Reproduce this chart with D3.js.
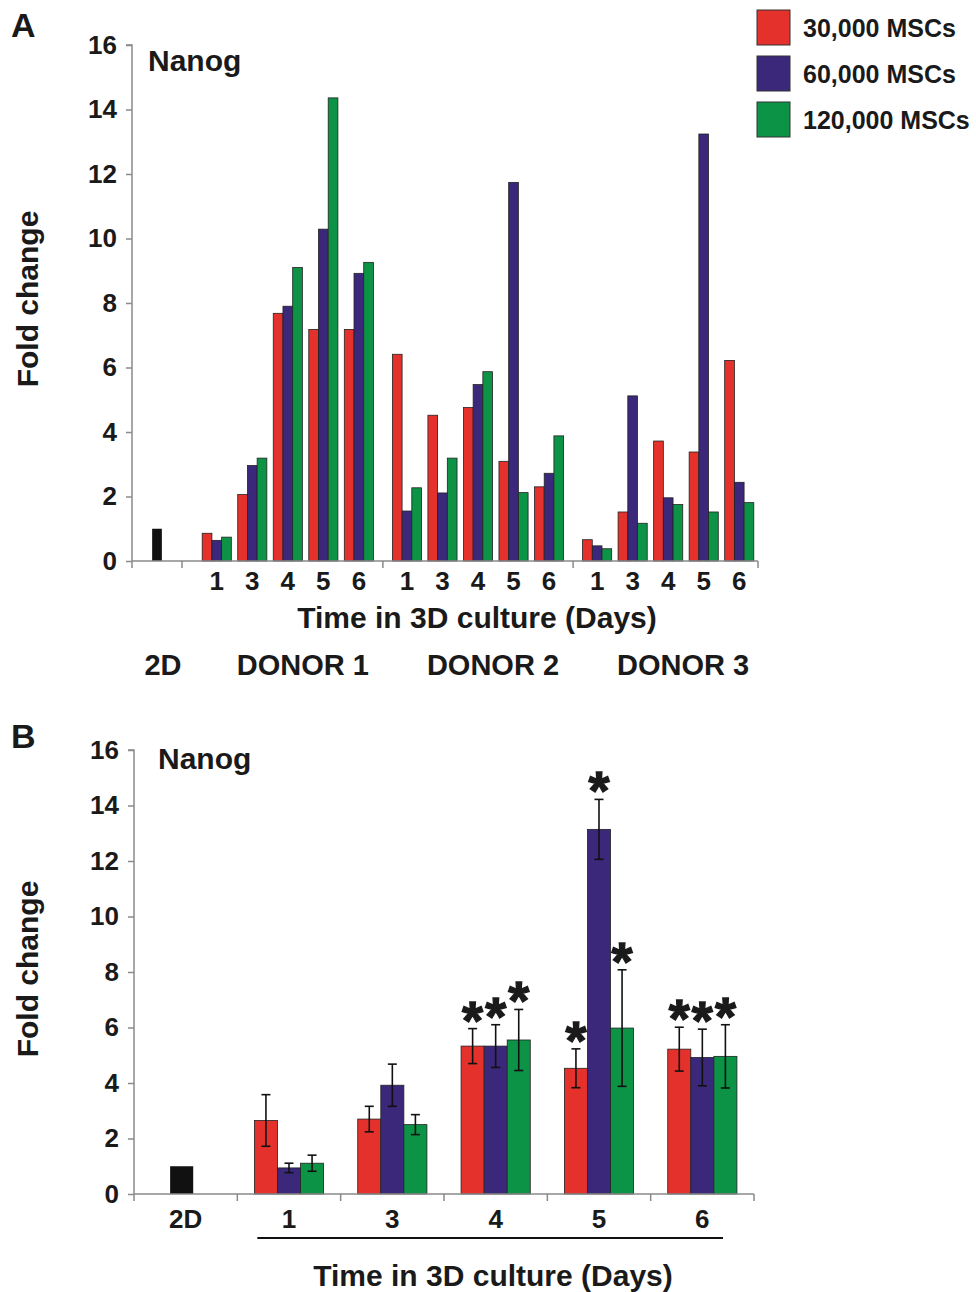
<!DOCTYPE html>
<html>
<head>
<meta charset="utf-8">
<script src="https://cdn.jsdelivr.net/npm/d3@7"></script>
<style>
  body { margin: 0; background: #fff; }
  svg text { font-family: "Liberation Sans", Arial, sans-serif; font-weight: bold; fill: #1a1a1a; }
</style>
</head>
<body>
<div id="chart"></div>
<script>
// ---- data ----
const series = ["30,000 MSCs", "60,000 MSCs", "120,000 MSCs"];
const colors = ["#e5312b", "#3b287a", "#0d9346"];
const days = ["1", "3", "4", "5", "6"];
const donors = ["DONOR 1", "DONOR 2", "DONOR 3"];
const yTicks = [0, 2, 4, 6, 8, 10, 12, 14, 16];
const value2D = 1;

// panel A: per donor, one row per series, one value per day
const donor1 = [
  [0.86, 2.06, 7.68, 7.18, 7.18],
  [0.64, 2.96, 7.90, 10.29, 8.92],
  [0.74, 3.19, 9.10, 14.36, 9.26]
];
const donor2 = [
  [6.41, 4.52, 4.76, 3.09, 2.30],
  [1.55, 2.11, 5.47, 11.74, 2.72],
  [2.27, 3.19, 5.87, 2.12, 3.88]
];
const donor3 = [
  [0.66, 1.52, 3.72, 3.38, 6.22],
  [0.47, 5.12, 1.96, 13.24, 2.44],
  [0.38, 1.17, 1.75, 1.52, 1.81]
];
const donorValues = [donor1, donor2, donor3];

// panel B: mean +/- error
const catsB = ["2D", "1", "3", "4", "5", "6"];
const mean30 = [2.65, 2.70, 5.33, 4.53, 5.22];
const mean60 = [0.94, 3.92, 5.33, 13.14, 4.92];
const mean120 = [1.11, 2.50, 5.55, 5.98, 4.96];
const err30 = [0.93, 0.46, 0.63, 0.70, 0.79];
const err60 = [0.17, 0.76, 0.77, 1.08, 1.02];
const err120 = [0.29, 0.36, 1.10, 2.10, 1.14];
const sig30 = [false, false, true, true, true];
const sig60 = [false, false, true, true, true];
const sig120 = [false, false, true, true, true];

const meansB = [mean30, mean60, mean120];
const errsB = [err30, err60, err120];
const sigsB = [sig30, sig60, sig120];

// ---- svg ----
const width = 976, height = 1292;
const svg = d3.select("#chart").append("svg")
  .attr("width", width).attr("height", height);

const axisGrey = "#8a8a8a";

// ================= PANEL A =================
const A = { left: 132, right: 758, top: 45, bottom: 561 };

const yA = d3.scaleLinear().domain([0, 16]).range([A.bottom, A.top]);

const xDonor = d3.scaleBand().domain(donors).range([199, 757]).paddingInner(0.066).paddingOuter(0);
const xDay = d3.scaleBand().domain(days).range([0, xDonor.bandwidth()]);
const xSer = d3.scaleBand().domain(series).range([0, xDay.bandwidth()]).paddingInner(0).paddingOuter(0.33);
const x2DA = A.left + 25;

const gA = svg.append("g");

// y axis
const yAxisA = gA.append("g")
  .attr("transform", `translate(${A.left},0)`)
  .call(d3.axisLeft(yA).tickValues(yTicks).tickSize(6).tickPadding(9));
yAxisA.selectAll("path, line").attr("stroke", axisGrey).attr("stroke-width", 1.5);
yAxisA.select(".domain").attr("d", `M-6,${A.top}H0V${A.bottom}`);
yAxisA.selectAll("text").style("font-size", "26px").attr("fill", "#1a1a1a");

// bars: 2D
gA.append("rect")
  .attr("x", x2DA - xSer.bandwidth() / 2)
  .attr("y", yA(value2D))
  .attr("width", xSer.bandwidth())
  .attr("height", yA(0) - yA(value2D))
  .attr("fill", "#111");

// bars: donors
donors.forEach((dn, di) => {
  const g = gA.append("g").attr("transform", `translate(${xDonor(dn)},0)`);
  series.forEach((s, si) => {
    g.selectAll(null)
      .data(donorValues[di][si])
      .enter().append("rect")
      .attr("x", (v, k) => xDay(days[k]) + xSer(s))
      .attr("y", v => yA(v))
      .attr("width", xSer.bandwidth())
      .attr("height", v => yA(0) - yA(v))
      .attr("fill", colors[si])
      .attr("stroke", "#222")
      .attr("stroke-width", 0.8);
  });
  // day labels
  g.selectAll(null).data(days).enter().append("text")
    .attr("x", d => xDay(d) + xDay.bandwidth() / 2)
    .attr("y", A.bottom + 29)
    .attr("text-anchor", "middle")
    .style("font-size", "26px")
    .text(d => d);
  // donor label
  gA.append("text")
    .attr("x", xDonor(dn) + xDonor.bandwidth() / 2 + 15)
    .attr("y", 675)
    .attr("text-anchor", "middle")
    .style("font-size", "29px")
    .text(dn);
});

// x axis line + tick marks
gA.append("line")
  .attr("x1", A.left).attr("x2", A.right)
  .attr("y1", A.bottom).attr("y2", A.bottom)
  .attr("stroke", axisGrey).attr("stroke-width", 1.5);
const gapA = xDonor.step() - xDonor.bandwidth();
const tickXA = [A.left, 182]
  .concat(donors.slice(0, 2).map(d => xDonor(d) + xDonor.bandwidth() + gapA / 2))
  .concat([A.right]);
gA.selectAll(null).data(tickXA).enter().append("line")
  .attr("x1", d => d).attr("x2", d => d)
  .attr("y1", A.bottom).attr("y2", A.bottom + 7)
  .attr("stroke", axisGrey).attr("stroke-width", 1.5);

gA.append("text").attr("x", 163).attr("y", 675).attr("text-anchor", "middle")
  .style("font-size", "29px").text("2D");
gA.append("text").attr("x", 477).attr("y", 628).attr("text-anchor", "middle")
  .style("font-size", "30px").text("Time in 3D culture (Days)");
gA.append("text").attr("x", 148).attr("y", 71).style("font-size", "30px").text("Nanog");
gA.append("text").attr("x", 11).attr("y", 37).style("font-size", "34px").text("A");
gA.append("text")
  .attr("transform", `translate(38,${(A.top + A.bottom) / 2 - 4}) rotate(-90)`)
  .attr("text-anchor", "middle")
  .style("font-size", "30px")
  .text("Fold change");

// legend
const leg = svg.append("g");
series.forEach((s, i) => {
  const ly = [10, 56, 102][i];
  leg.append("rect").attr("x", 757).attr("y", ly).attr("width", 33).attr("height", 35)
    .attr("fill", colors[i]).attr("stroke", "#333").attr("stroke-width", 1);
  leg.append("text").attr("x", 803).attr("y", ly + 27).style("font-size", "25px").text(s);
});

// ================= PANEL B =================
const B = { left: 134, right: 754, top: 750, bottom: 1194 };
const yB = d3.scaleLinear().domain([0, 16]).range([B.bottom, B.top]);
const xB = d3.scaleBand().domain(catsB).range([B.left, B.right]);
const xSerB = d3.scaleBand().domain(series).range([0, xB.bandwidth()]).paddingInner(0).paddingOuter(0.74);

const gB = svg.append("g");

const yAxisB = gB.append("g")
  .attr("transform", `translate(${B.left},0)`)
  .call(d3.axisLeft(yB).tickValues(yTicks).tickSize(6).tickPadding(9));
yAxisB.selectAll("path, line").attr("stroke", axisGrey).attr("stroke-width", 1.5);
yAxisB.select(".domain").attr("d", `M-6,${B.top}H0V${B.bottom}`);
yAxisB.selectAll("text").style("font-size", "26px").attr("fill", "#1a1a1a");

// 2D bar
gB.append("rect")
  .attr("x", xB("2D") + xB.bandwidth() / 2 - xSerB.bandwidth() / 2 - 4)
  .attr("y", yB(value2D))
  .attr("width", xSerB.bandwidth())
  .attr("height", yB(0) - yB(value2D))
  .attr("fill", "#111");

const dayCatsB = catsB.slice(1);
series.forEach((s, si) => {
  const rows = dayCatsB.map((c, k) => ({ c, v: meansB[si][k], e: errsB[si][k], sig: sigsB[si][k] }));
  const cx = d => xB(d.c) + xSerB(s) + xSerB.bandwidth() / 2;
  gB.selectAll(null).data(rows).enter().append("rect")
    .attr("x", d => xB(d.c) + xSerB(s))
    .attr("y", d => yB(d.v))
    .attr("width", xSerB.bandwidth())
    .attr("height", d => yB(0) - yB(d.v))
    .attr("fill", colors[si])
    .attr("stroke", "#222")
    .attr("stroke-width", 0.8);
  // error bars
  const eb = gB.selectAll(null).data(rows).enter().append("g")
    .attr("stroke", "#111").attr("stroke-width", 1.6);
  eb.append("line").attr("x1", cx).attr("x2", cx)
    .attr("y1", d => yB(d.v + d.e)).attr("y2", d => yB(d.v - d.e));
  eb.append("line").attr("x1", d => cx(d) - 4.5).attr("x2", d => cx(d) + 4.5)
    .attr("y1", d => yB(d.v + d.e)).attr("y2", d => yB(d.v + d.e));
  eb.append("line").attr("x1", d => cx(d) - 4.5).attr("x2", d => cx(d) + 4.5)
    .attr("y1", d => yB(d.v - d.e)).attr("y2", d => yB(d.v - d.e));
  // significance
  gB.selectAll(null).data(rows.filter(d => d.sig)).enter().append("text")
    .attr("x", cx)
    .attr("y", d => yB(d.v + d.e) + 10)
    .attr("text-anchor", "middle")
    .style("font-size", "54px")
    .attr("stroke", "#1a1a1a")
    .attr("stroke-width", 1.3)
    .text("*");
});

// x axis
gB.append("line")
  .attr("x1", B.left).attr("x2", B.right)
  .attr("y1", B.bottom).attr("y2", B.bottom)
  .attr("stroke", axisGrey).attr("stroke-width", 1.5);
gB.selectAll(null).data(catsB.concat(["end"])).enter().append("line")
  .attr("x1", d => d === "end" ? B.right : xB(d))
  .attr("x2", d => d === "end" ? B.right : xB(d))
  .attr("y1", B.bottom).attr("y2", B.bottom + 7)
  .attr("stroke", axisGrey).attr("stroke-width", 1.5);
gB.selectAll(null).data(catsB).enter().append("text")
  .attr("x", d => xB(d) + xB.bandwidth() / 2)
  .attr("y", B.bottom + 34)
  .attr("text-anchor", "middle")
  .style("font-size", "26px")
  .text(d => d);

gB.append("line")
  .attr("x1", xB("1") + 20).attr("x2", xB("6") + xB.bandwidth() * 0.7)
  .attr("y1", 1238).attr("y2", 1238)
  .attr("stroke", "#111").attr("stroke-width", 2.2);
gB.append("text").attr("x", 493).attr("y", 1286).attr("text-anchor", "middle")
  .style("font-size", "30px").text("Time in 3D culture (Days)");
gB.append("text").attr("x", 158).attr("y", 769).style("font-size", "30px").text("Nanog");
gB.append("text").attr("x", 11).attr("y", 748).style("font-size", "34px").text("B");
gB.append("text")
  .attr("transform", `translate(38,${(B.top + B.bottom) / 2 - 3}) rotate(-90)`)
  .attr("text-anchor", "middle")
  .style("font-size", "30px")
  .text("Fold change");
</script>
</body>
</html>
